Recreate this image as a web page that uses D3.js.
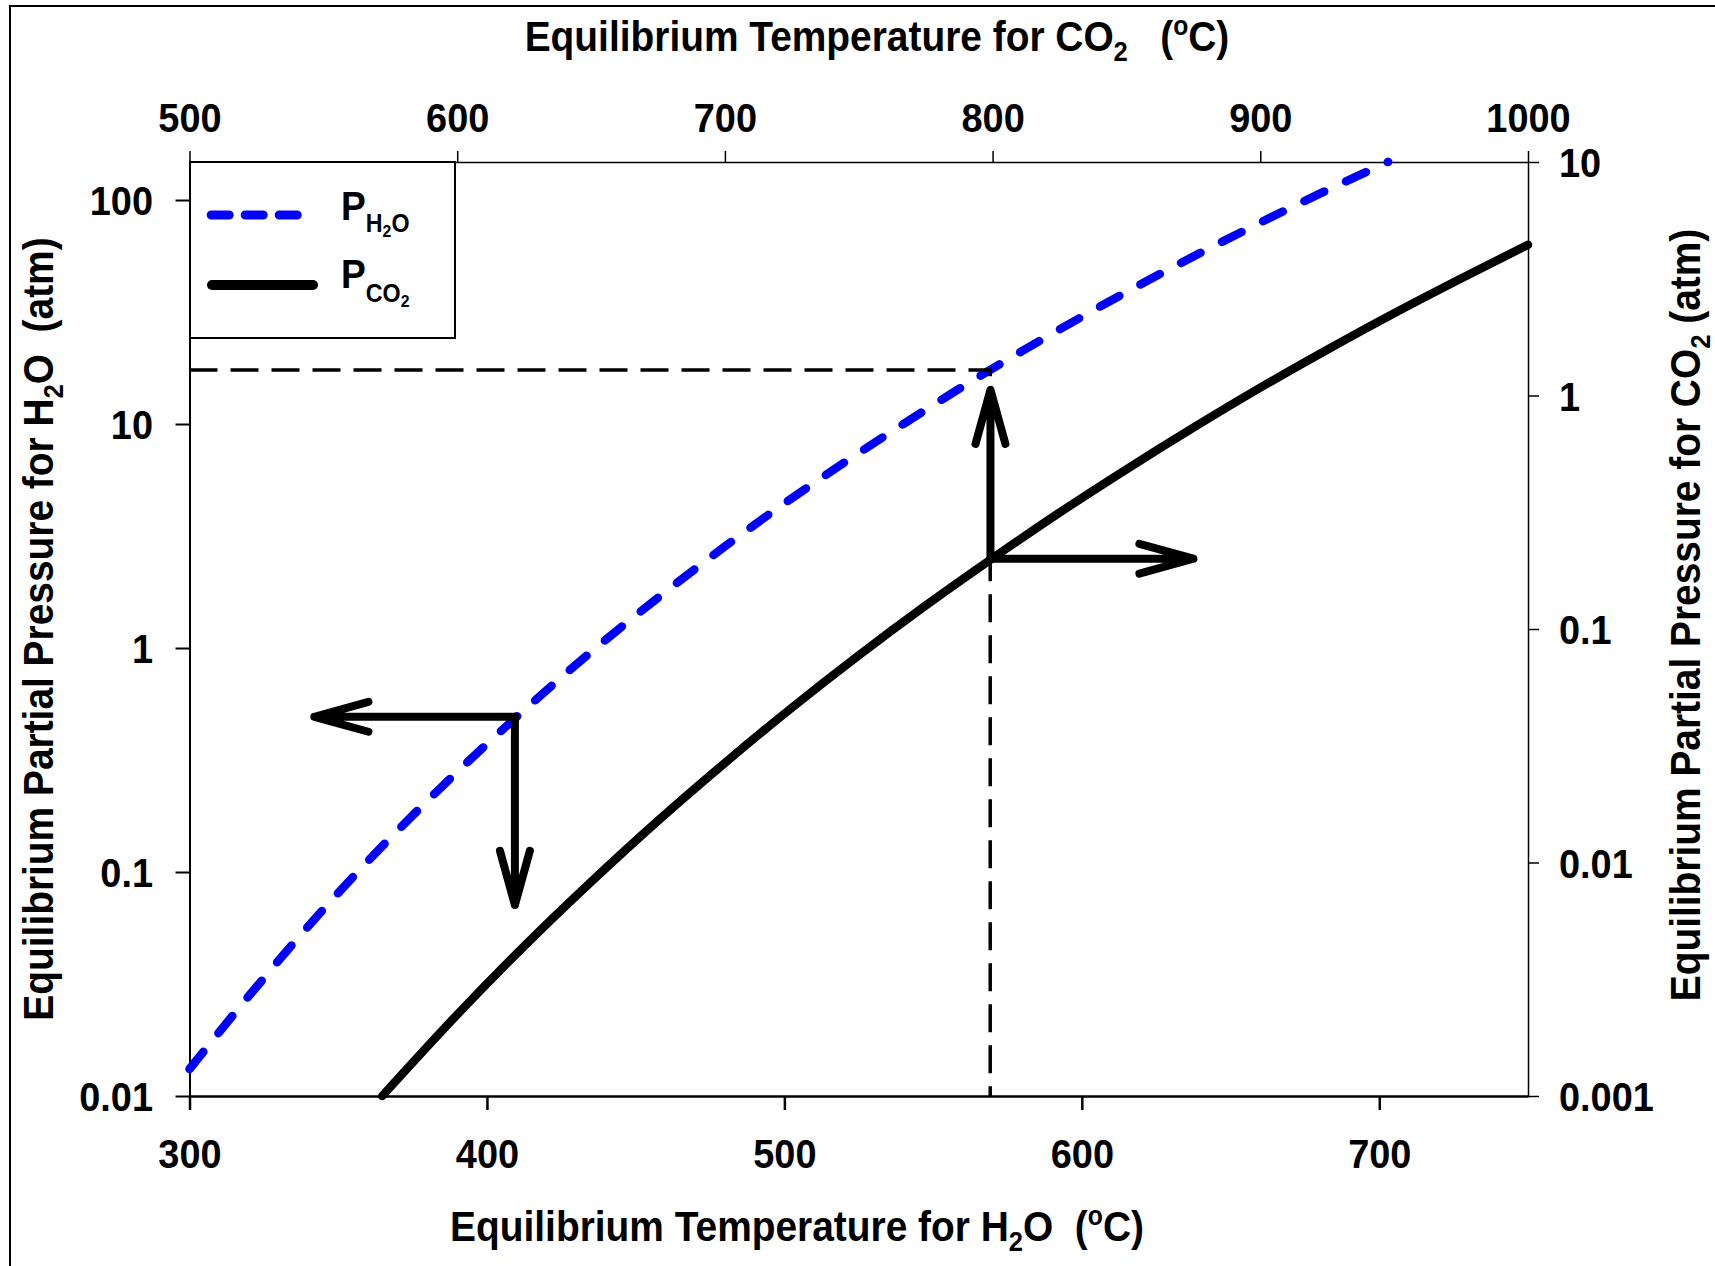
<!DOCTYPE html>
<html><head><meta charset="utf-8">
<script src="https://cdn.jsdelivr.net/npm/d3@7"></script>
<style>
body{margin:0;background:#fff}
svg{display:block}
text{font-family:"Liberation Sans",Arial,Helvetica,sans-serif;font-weight:bold;fill:#000}
.tick text{font-size:41px}
</style>
</head><body><svg id="c" width="1715" height="1266"></svg>
<script>
// ---- data ----
const h2oTemp = [300, 320, 340, 360, 380, 400, 410, 420, 440, 460, 480, 500, 520, 540, 560, 569.2, 580, 600, 620, 640, 660, 680, 703];
const h2oPressure = [0.0132, 0.0280, 0.0574, 0.112, 0.208, 0.373, 0.493, 0.647, 1.09, 1.78, 2.84, 4.42, 6.71, 10.0, 14.7, 17.44, 21.2, 30.1, 42.2, 58.2, 79.3, 106.7, 148];
const co2Temp = [572, 600, 625, 650, 675, 700, 725, 750, 775, 800, 825, 850, 875, 900, 925, 950, 975, 1000];
const co2Pressure = [0.00100, 0.00223, 0.00438, 0.00826, 0.0151, 0.0267, 0.0460, 0.0771, 0.126, 0.201, 0.315, 0.483, 0.728, 1.08, 1.57, 2.25, 3.17, 4.42];
const bottomTicks = [300, 400, 500, 600, 700];
const topTicks = [500, 600, 700, 800, 900, 1000];
const leftTicks = [0.01, 0.1, 1, 10, 100];
const leftTickLabels = ["0.01", "0.1", "1", "10", "100"];
const rightTicks = [0.001, 0.01, 0.1, 1, 10];
const rightTickLabels = ["0.001", "0.01", "0.1", "1", "10"];
// annotation (arrows / guide lines), data units
const markH2O = {temp: 409.4, pressure: 0.493, arrowLeftTemp: 342, arrowDownPressure: 0.0713};
const markCO2 = {temp: 799.2, pressure: 0.200, h2oTemp: 569.2, h2oPressure: 17.44, arrowUpPressure: 14.2, arrowRightTemp: 875};

// ---- layout ----
const L = 189.5, R = 1528, T = 162, B = 1096;
const SX = 0.925; // horizontal condensing of the lettering
const svg = d3.select("#c");

const x = d3.scaleLinear().domain([300, 750]).range([L, R]);
const xTop = d3.scaleLinear().domain([500, 1000]).range([L, R]);
const yL = d3.scaleLog().domain([0.01, 147.8]).range([B, T]);
const yR = d3.scaleLog().domain([0.001, 10]).range([B, T]);

// outer frame (extends beyond right/bottom edges)
svg.append("rect").attr("x", 10).attr("y", 6).attr("width", 1730).attr("height", 1290)
  .attr("fill", "none").attr("stroke", "#000").attr("stroke-width", 2);

function styleAxis(g, w, tx, ty, dy) {
  g.attr("font-size", null).attr("font-family", null);
  g.select(".domain").attr("stroke", "#000").attr("stroke-width", w);
  g.selectAll(".tick line").attr("stroke", "#000").attr("stroke-width", w);
  g.selectAll(".tick text")
    .attr("x", 0).attr("y", 0).attr("dy", dy)
    .attr("transform", `translate(${tx},${ty}) scale(${SX},1)`);
}

const gB = svg.append("g").attr("transform", `translate(0,${B})`)
  .call(d3.axisBottom(x).tickValues(bottomTicks).tickSize(14).tickSizeOuter(0).tickFormat(d3.format("d")));
styleAxis(gB, 2.5, 0, 72, 0);

const gT = svg.append("g").attr("transform", `translate(0,${T})`)
  .call(d3.axisTop(xTop).tickValues(topTicks).tickSize(11).tickSizeOuter(0).tickFormat(d3.format("d")));
styleAxis(gT, 1.5, 0, -30, 0);

const gL = svg.append("g").attr("transform", `translate(${L},0)`)
  .call(d3.axisLeft(yL).tickValues(leftTicks).tickSize(14).tickSizeOuter(0)
    .tickFormat((d, i) => leftTickLabels[i]));
styleAxis(gL, 2, -36.5, 0, "0.36em");

const gR = svg.append("g").attr("transform", `translate(${R},0)`)
  .call(d3.axisRight(yR).tickValues(rightTicks).tickSize(11).tickSizeOuter(0)
    .tickFormat((d, i) => rightTickLabels[i]));
styleAxis(gR, 1.5, 31, 0, "0.36em");

// ---- rich text helper ----
function rich(parent, segs, attrs) {
  const t = parent.append("text").style("white-space", "pre");
  Object.entries(attrs).forEach(([k, v]) => t.attr(k, v));
  segs.forEach(s => {
    const sp = t.append("tspan").attr("font-size", s[1]).text(s[0]);
    if (s[2]) sp.attr("dy", s[2]);
  });
  return t;
}
const TS = 42.5, SS = 28;
rich(svg, [["Equilibrium Temperature for CO", TS], ["2", SS, 10], ["   (", TS, -10], ["o", 27, -16], ["C)", TS, 16]],
  {transform: `translate(877,51) scale(0.915,1)`, "text-anchor": "middle"});
rich(svg, [["Equilibrium Temperature for H", TS], ["2", SS, 10], ["O  (", TS, -10], ["o", 27, -16], ["C)", TS, 16]],
  {transform: `translate(797,1241) scale(0.915,1)`, "text-anchor": "middle"});
rich(svg, [["Equilibrium Partial Pressure for H", TS], ["2", SS, 10], ["O  (atm)", TS, -10]],
  {transform: "translate(53,629) rotate(-90) scale(0.915,1)", "text-anchor": "middle"});
rich(svg, [["Equilibrium Partial Pressure for CO", TS], ["2", SS, 10], [" (atm)", TS, -10]],
  {transform: "translate(1700,615) rotate(-90) scale(0.915,1)", "text-anchor": "middle"});

// ---- guide lines ----
const ann = svg.append("g");
ann.append("path")
  .attr("d", `M${L},${yL(markCO2.h2oPressure)}H${x(markCO2.h2oTemp)}V${B}`)
  .attr("fill", "none").attr("stroke", "#000").attr("stroke-width", 3.5)
  .attr("stroke-dasharray", "28,13");

// ---- curves ----
const lineH2O = d3.line().x(d => x(d[0])).y(d => yL(d[1])).curve(d3.curveMonotoneX);
const lineCO2 = d3.line().x(d => xTop(d[0])).y(d => yR(d[1])).curve(d3.curveMonotoneX);

svg.append("path").datum(co2Temp.map((t, i) => [t, co2Pressure[i]]))
  .attr("d", lineCO2).attr("fill", "none").attr("stroke", "#000")
  .attr("stroke-width", 8.5).attr("stroke-linecap", "round");

svg.append("path").datum(h2oTemp.map((t, i) => [t, h2oPressure[i]]))
  .attr("d", lineH2O).attr("fill", "none").attr("stroke", "#0000ff")
  .attr("stroke-width", 8.5).attr("stroke-linecap", "round").attr("stroke-dasharray", "22,24");

// ---- arrows ----
function arrow(x1, y1, x2, y2) {
  const ang = Math.atan2(y2 - y1, x2 - x1), len = 56, spread = 0.27;
  const a1 = [x2 - len * Math.cos(ang - spread), y2 - len * Math.sin(ang - spread)];
  const a2 = [x2 - len * Math.cos(ang + spread), y2 - len * Math.sin(ang + spread)];
  ann.append("path")
    .attr("d", `M${x1},${y1}L${x2},${y2}M${a1[0]},${a1[1]}L${x2},${y2}L${a2[0]},${a2[1]}`)
    .attr("fill", "none").attr("stroke", "#000").attr("stroke-width", 8)
    .attr("stroke-linecap", "round").attr("stroke-linejoin", "round");
}
svg.node().appendChild(ann.node());
const c1x = x(markH2O.temp), c1y = yL(markH2O.pressure);
arrow(c1x, c1y, x(markH2O.arrowLeftTemp), c1y);
arrow(c1x, c1y, c1x, yL(markH2O.arrowDownPressure));
const c2x = xTop(markCO2.temp), c2y = yR(markCO2.pressure);
arrow(c2x, c2y, c2x, yL(markCO2.arrowUpPressure));
arrow(c2x, c2y, xTop(markCO2.arrowRightTemp), c2y);

// ---- legend ----
const lg = svg.append("g");
lg.append("rect").attr("x", 190).attr("y", 162).attr("width", 265).attr("height", 176)
  .attr("fill", "#fff").attr("stroke", "#000").attr("stroke-width", 2);
lg.append("line").attr("x1", 211.2).attr("x2", 297.2).attr("y1", 215).attr("y2", 215)
  .attr("stroke", "#0000ff").attr("stroke-width", 9).attr("stroke-linecap", "round")
  .attr("stroke-dasharray", "18,16");
lg.append("line").attr("x1", 212).attr("x2", 313).attr("y1", 285).attr("y2", 285)
  .attr("stroke", "#000").attr("stroke-width", 10).attr("stroke-linecap", "round");
rich(lg, [["P", 40], ["H", 25, 12], ["2", 17, 6], ["O", 25, -6]], {transform: "translate(341,219.5) scale(0.93,1)"});
rich(lg, [["P", 40], ["CO", 25, 14], ["2", 17, 6]], {transform: "translate(341,287.5) scale(0.93,1)"});
</script>
</body></html>
